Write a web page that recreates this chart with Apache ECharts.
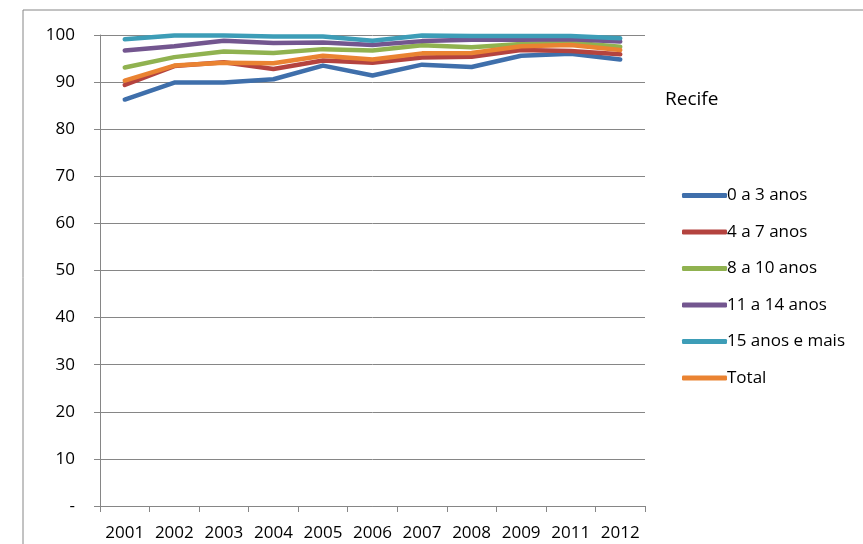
<!DOCTYPE html>
<html><head><meta charset="utf-8">
<script src="https://cdn.jsdelivr.net/npm/echarts@6/dist/echarts.min.js"></script>
<style>html,body{margin:0;padding:0;background:#fff}#c{width:863px;height:544px}</style>
</head><body><div id="c"></div>
<script>
const years = ['2001','2002','2003','2004','2005','2006','2007','2008','2009','2011','2012'];
const s0a3   = [86.3, 89.9, 89.9, 90.6, 93.5, 91.4, 93.7, 93.2, 95.6, 96.0, 94.8];
const s4a7   = [89.4, 93.4, 94.2, 92.8, 94.6, 94.1, 95.2, 95.4, 96.8, 96.6, 95.9];
const s8a10  = [93.1, 95.3, 96.5, 96.2, 97.0, 96.7, 97.8, 97.4, 98.1, 98.4, 97.5];
const s11a14 = [96.7, 97.6, 98.8, 98.3, 98.4, 97.9, 98.7, 99.0, 99.0, 99.1, 98.6];
const s15    = [99.1, 99.9, 99.9, 99.7, 99.7, 98.8, 99.9, 99.8, 99.8, 99.8, 99.3];
const total  = [90.3, 93.5, 94.1, 94.0, 95.6, 94.8, 96.1, 96.2, 97.6, 97.9, 96.8];
const names = ['0 a 3 anos','4 a 7 anos','8 a 10 anos','11 a 14 anos','15 anos e mais','Total'];
const colors = ['#3F6FAB','#B4433F','#90B250','#73568F','#3D9DB7','#EA8332'];
const data = [s0a3,s4a7,s8a10,s11a14,s15,total];
const font = 'Open Sans';
const chart = echarts.init(document.getElementById('c'));
chart.setOption({
  animation:false,
  backgroundColor:'#fff',
  graphic:[{type:'rect',shape:{x:23,y:10,width:900,height:600},style:{fill:'none',stroke:'#868686',lineWidth:1},silent:true},
           {type:'text',left:665,top:90,style:{text:'Recife',font:'19px "Open Sans"',fill:'#000'}}],
  grid:{left:100,right:218,top:35,bottom:38,containLabel:false},
  legend:{orient:'vertical',left:677,top:182,icon:'roundRect',itemWidth:45,itemHeight:5,itemGap:19.5,
    textStyle:{fontFamily:font,fontSize:17,color:'#000',lineHeight:16,padding:[0,0,0,-5]},data:names},
  xAxis:{type:'category',data:years,boundaryGap:true,
    axisLine:{lineStyle:{color:'#868686',width:1}},
    axisTick:{show:true,interval:0,length:6,lineStyle:{color:'#868686'}},
    axisLabel:{fontFamily:font,fontSize:17,color:'#000',margin:19,interval:0}},
  yAxis:{type:'value',min:0,max:100,interval:10,
    axisLine:{show:true,lineStyle:{color:'#868686',width:1}},
    axisTick:{show:true,length:6,lineStyle:{color:'#868686'}},
    splitLine:{lineStyle:{color:'#868686',width:1}},
    axisLabel:{fontFamily:font,fontSize:17,color:'#000',margin:25,formatter:v=>v===0?'-':String(v)}},
  series:data.map((d,i)=>({name:names[i],type:'line',data:d,symbol:'none',
    lineStyle:{color:colors[i],width:4.5,cap:'round',join:'round'},itemStyle:{color:colors[i]}}))
});
</script></body></html>
